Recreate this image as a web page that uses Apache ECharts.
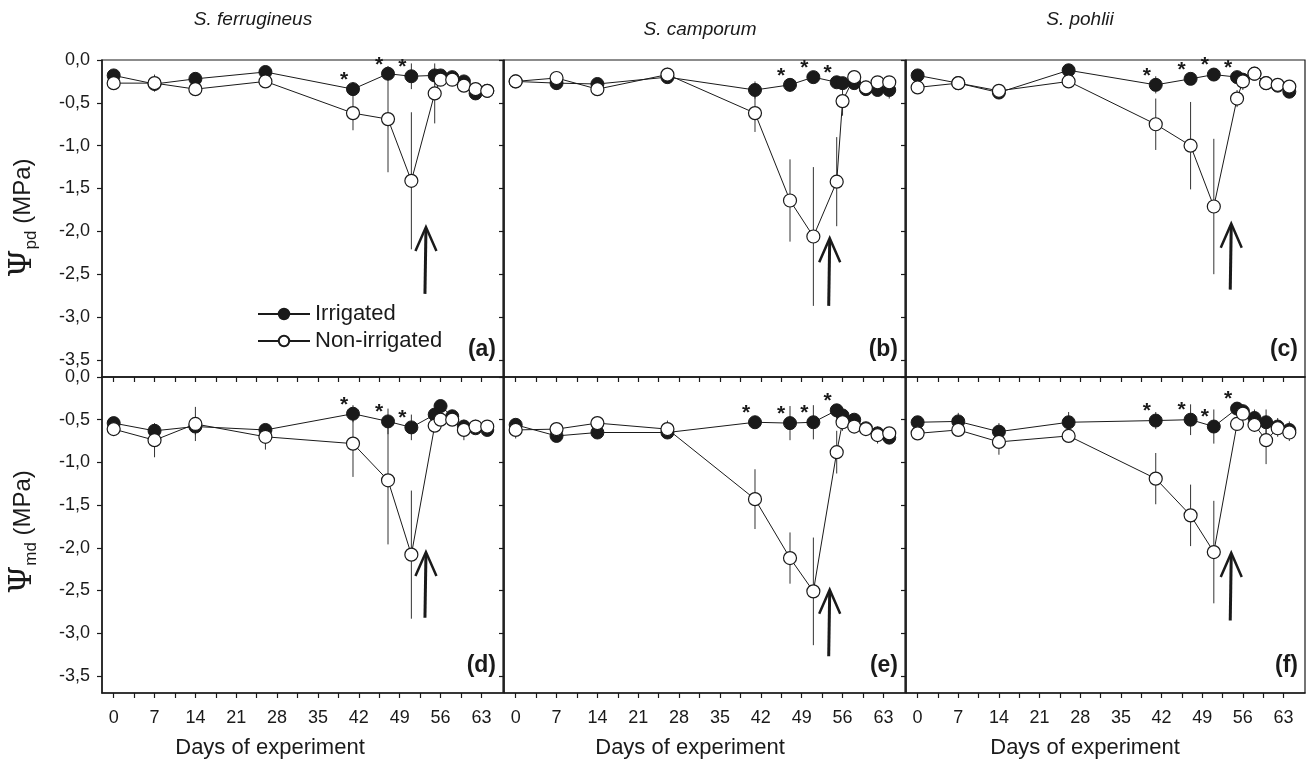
<!DOCTYPE html>
<html>
<head>
<meta charset="utf-8">
<script src="https://cdn.jsdelivr.net/npm/echarts@6/dist/echarts.min.js"></script>
<style>
  html, body { margin: 0; background: #fff; }
  #chart { width: 1310px; height: 762px; }
</style>
</head>
<body>
<div id="chart"></div>
<script>
// sampling days (same for every panel)
const days = [0, 7, 14, 26, 41, 47, 51, 55, 56, 58, 60, 62, 64];

// predawn water potential (top row)
const irrA = [-0.18, -0.28, -0.22, -0.14, -0.34, -0.16, -0.19, -0.18, -0.18, -0.2, -0.25, -0.39, -0.36];
const nonA = [-0.27, -0.27, -0.34, -0.25, -0.62, -0.69, -1.41, -0.39, -0.23, -0.23, -0.3, -0.34, -0.36];
const irrErrA = [0.03, 0.05, 0.05, 0.04, 0.08, 0.04, 0.15, 0.04, 0.05, 0.05, 0.05, 0.05, 0.04];
const nonErrA = [0.03, 0.1, 0.08, 0.07, 0.2, 0.62, 0.8, 0.35, 0.05, 0.05, 0.05, 0.05, 0.04];

const irrB = [-0.25, -0.27, -0.28, -0.2, -0.35, -0.29, -0.2, -0.26, -0.27, -0.27, -0.34, -0.35, -0.35];
const nonB = [-0.25, -0.21, -0.34, -0.17, -0.62, -1.64, -2.06, -1.42, -0.48, -0.2, -0.32, -0.26, -0.26];
const irrErrB = [0.03, 0.08, 0.05, 0.06, 0.1, 0.08, 0.06, 0.05, 0.05, 0.05, 0.08, 0.06, 0.1];
const nonErrB = [0.03, 0.05, 0.06, 0.08, 0.22, 0.48, 0.81, 0.52, 0.17, 0.05, 0.08, 0.05, 0.05];

const irrC = [-0.18, -0.27, -0.38, -0.12, -0.29, -0.22, -0.17, -0.2, -0.23, -0.16, -0.27, -0.3, -0.37];
const nonC = [-0.32, -0.27, -0.36, -0.25, -0.75, -1.0, -1.71, -0.45, -0.25, -0.16, -0.27, -0.29, -0.31];
const irrErrC = [0.03, 0.05, 0.05, 0.05, 0.1, 0.05, 0.05, 0.05, 0.05, 0.05, 0.05, 0.05, 0.05];
const nonErrC = [0.03, 0.05, 0.05, 0.05, 0.3, 0.51, 0.79, 0.1, 0.1, 0.05, 0.08, 0.06, 0.05];

// midday water potential (bottom row)
const irrD = [-0.54, -0.63, -0.58, -0.62, -0.43, -0.52, -0.59, -0.44, -0.34, -0.46, -0.58, -0.6, -0.62];
const nonD = [-0.61, -0.74, -0.55, -0.7, -0.78, -1.21, -2.08, -0.57, -0.5, -0.5, -0.62, -0.58, -0.58];
const irrErrD = [0.04, 0.08, 0.1, 0.06, 0.1, 0.15, 0.15, 0.06, 0.05, 0.06, 0.06, 0.06, 0.06];
const nonErrD = [0.08, 0.2, 0.2, 0.15, 0.39, 0.75, 0.75, 0.06, 0.06, 0.06, 0.12, 0.08, 0.06];

const irrE = [-0.56, -0.69, -0.65, -0.65, -0.53, -0.54, -0.53, -0.39, -0.45, -0.5, -0.6, -0.66, -0.71];
const nonE = [-0.62, -0.61, -0.54, -0.61, -1.43, -2.12, -2.51, -0.88, -0.53, -0.58, -0.61, -0.68, -0.66];
const irrErrE = [0.05, 0.07, 0.06, 0.06, 0.05, 0.2, 0.2, 0.05, 0.05, 0.05, 0.05, 0.05, 0.05];
const nonErrE = [0.1, 0.05, 0.06, 0.1, 0.35, 0.3, 0.63, 0.25, 0.1, 0.06, 0.06, 0.1, 0.06];

const irrF = [-0.53, -0.52, -0.64, -0.53, -0.51, -0.5, -0.58, -0.37, -0.4, -0.48, -0.53, -0.58, -0.62];
const nonF = [-0.66, -0.62, -0.76, -0.69, -1.19, -1.62, -2.05, -0.55, -0.43, -0.56, -0.74, -0.6, -0.65];
const irrErrF = [0.05, 0.1, 0.1, 0.12, 0.1, 0.18, 0.2, 0.05, 0.05, 0.1, 0.15, 0.1, 0.1];
const nonErrF = [0.06, 0.06, 0.15, 0.06, 0.3, 0.36, 0.6, 0.06, 0.06, 0.08, 0.28, 0.1, 0.1];

// days with a significant difference (*)
const starsA = [41, 47, 51];
const starsB = [47, 51, 55];
const starsC = [41, 47, 51, 55];
const starsD = [41, 47, 51];
const starsE = [41, 47, 51, 55];
const starsF = [41, 47, 51, 55];

// rewatering arrow: [day, tip, base]
const arrowA = [53.5, -1.95, -2.73];
const arrowB = [53.8, -2.08, -2.87];
const arrowC = [54.0, -1.91, -2.68];
const arrowD = [53.5, -2.05, -2.82];
const arrowE = [53.8, -2.49, -3.27];
const arrowF = [54.0, -2.06, -2.85];

const xTicks = [0, 3.5, 7, 10.5, 14, 17.5, 21, 24.5, 28, 31.5, 35, 38.5, 42, 45.5, 49, 52.5, 56, 59.5, 63];
const xLabels = [0, 7, 14, 21, 28, 35, 42, 49, 56, 63];
const yTicks = [0, -0.5, -1, -1.5, -2, -2.5, -3, -3.5];

const species = ['S. ferrugineus', 'S. camporum', 'S. pohlii'];
const letters = ['(a)', '(b)', '(c)', '(d)', '(e)', '(f)'];

const panels = [
  { irr: irrA, non: nonA, irrErr: irrErrA, nonErr: nonErrA, stars: starsA, arrow: arrowA },
  { irr: irrB, non: nonB, irrErr: irrErrB, nonErr: nonErrB, stars: starsB, arrow: arrowB },
  { irr: irrC, non: nonC, irrErr: irrErrC, nonErr: nonErrC, stars: starsC, arrow: arrowC },
  { irr: irrD, non: nonD, irrErr: irrErrD, nonErr: nonErrD, stars: starsD, arrow: arrowD },
  { irr: irrE, non: nonE, irrErr: irrErrE, nonErr: nonErrE, stars: starsE, arrow: arrowE },
  { irr: irrF, non: nonF, irrErr: irrErrF, nonErr: nonErrF, stars: starsF, arrow: arrowF }
];

const FONT = '"Liberation Sans", Arial, sans-serif';
const ink = '#1a1a1a';

const colLeft = [102, 504, 906];
const colWidth = [401, 401, 399];
const rowTop = [60, 377];
const rowHeight = [317, 316];

const grids = [], xAxes = [], yAxes = [], series = [];

function renderErr(params, api) {
  const x = api.value(0), y = api.value(1), e = api.value(2);
  const p1 = api.coord([x, y + e]);
  const p2 = api.coord([x, y - e]);
  return {
    type: 'line',
    shape: { x1: p1[0], y1: p1[1], x2: p2[0], y2: p2[1] },
    style: { stroke: '#333', lineWidth: 1 }
  };
}

function renderArrow(params, api) {
  const d = api.value(0);
  const t = api.coord([d, api.value(1)]);
  const b = api.coord([d, api.value(2)]);
  return {
    type: 'group',
    children: [
      { type: 'line', shape: { x1: b[0] - 1, y1: b[1], x2: t[0], y2: t[1] + 2 },
        style: { stroke: ink, lineWidth: 3 } },
      { type: 'polyline', shape: { points: [[t[0] - 10.5, t[1] + 24], [t[0], t[1]], [t[0] + 10.5, t[1] + 24]] },
        style: { stroke: ink, lineWidth: 2.5, fill: null } }
    ]
  };
}

panels.forEach((p, i) => {
  const row = Math.floor(i / 3), col = i % 3;
  grids.push({
    left: colLeft[col], top: rowTop[row], width: colWidth[col], height: rowHeight[row],
    show: true, borderColor: ink, borderWidth: 1.2, containLabel: false
  });
  xAxes.push({
    gridIndex: i, type: 'value', min: -2, max: 66.7,
    axisLine: { onZero: false, lineStyle: { color: ink, width: 1.5 } },
    axisTick: { show: true, length: 5, customValues: xTicks, lineStyle: { color: ink, width: 1.2 } },
    axisLabel: {
      show: row === 1, customValues: xLabels, margin: 16,
      fontSize: 18, color: ink, fontFamily: FONT
    },
    splitLine: { show: false }
  });
  yAxes.push({
    gridIndex: i, type: 'value', min: -3.7, max: 0,
    axisLine: { onZero: false, lineStyle: { color: ink, width: 1.5 } },
    axisTick: { show: true, length: 5, customValues: yTicks, lineStyle: { color: ink, width: 1.2 } },
    axisLabel: {
      show: col === 0, customValues: yTicks, margin: 12,
      fontSize: 18, color: ink, fontFamily: FONT,
      formatter: v => (Math.abs(v) < 1e-9 ? '0,0' : v.toFixed(1).replace('.', ','))
    },
    splitLine: { show: false }
  });

  series.push({
    type: 'custom', xAxisIndex: i, yAxisIndex: i, z: 1, silent: true,
    renderItem: renderErr,
    data: days.map((d, k) => [d, p.irr[k], p.irrErr[k]])
  });
  series.push({
    type: 'custom', xAxisIndex: i, yAxisIndex: i, z: 1, silent: true,
    renderItem: renderErr,
    data: days.map((d, k) => [d, p.non[k], p.nonErr[k]])
  });
  series.push({
    name: 'Irrigated', type: 'line', xAxisIndex: i, yAxisIndex: i, z: 3,
    symbol: 'circle', symbolSize: 13,
    lineStyle: { color: ink, width: 1 },
    itemStyle: { color: ink, borderColor: ink, borderWidth: 1 },
    data: days.map((d, k) => {
      const item = { value: [d, p.irr[k]] };
      if (p.stars.includes(d)) {
        item.label = {
          show: true, formatter: '*', position: 'inside', offset: [-9, -9],
          fontSize: 21, fontWeight: 'bold', color: ink, fontFamily: FONT
        };
      }
      return item;
    })
  });
  series.push({
    name: 'Non-irrigated', type: 'line', xAxisIndex: i, yAxisIndex: i, z: 4,
    symbol: 'circle', symbolSize: 13,
    lineStyle: { color: ink, width: 1 },
    itemStyle: { color: '#fff', borderColor: ink, borderWidth: 1.2 },
    data: days.map((d, k) => [d, p.non[k]])
  });
  series.push({
    type: 'custom', xAxisIndex: i, yAxisIndex: i, z: 5, silent: true,
    renderItem: renderArrow,
    data: [p.arrow]
  });
});

const graphics = [];
const titleY = [20, 30, 20];
const titleX = [253, 700, 1080];
species.forEach((s, c) => {
  graphics.push({
    type: 'text', x: titleX[c], y: titleY[c],
    style: { text: s, font: 'italic 19px ' + FONT, fill: ink, textAlign: 'center', textVerticalAlign: 'middle' }
  });
  graphics.push({
    type: 'text', x: [270, 690, 1085][c], y: 748,
    style: { text: 'Days of experiment', font: '22px ' + FONT, fill: ink, textAlign: 'center', textVerticalAlign: 'middle' }
  });
});
letters.forEach((l, i) => {
  const row = Math.floor(i / 3), col = i % 3;
  graphics.push({
    type: 'text', x: colLeft[col] + colWidth[col] - 7, y: rowTop[row] + rowHeight[row] - 27,
    style: { text: l, font: 'bold 23px ' + FONT, fill: ink, textAlign: 'right', textVerticalAlign: 'middle' }
  });
});
['pd', 'md'].forEach((sub, r) => {
  graphics.push({
    type: 'text', x: 23, y: [218, 532][r], rotation: Math.PI / 2,
    style: {
      text: '{psi|Ψ}{sub|' + sub + '}{n| (MPa)}',
      textAlign: 'center', textVerticalAlign: 'middle',
      rich: {
        psi: { fontSize: 32, fontFamily: '"DejaVu Serif", serif', fill: ink, lineHeight: 34 },
        sub: { fontSize: 17, fontFamily: FONT, fill: ink, verticalAlign: 'bottom', lineHeight: 34 },
        n: { fontSize: 24, fontFamily: FONT, fill: ink, lineHeight: 34 }
      }
    }
  });
});

const chart = echarts.init(document.getElementById('chart'));
chart.setOption({
  animation: false,
  backgroundColor: '#fff',
  grid: grids,
  xAxis: xAxes,
  yAxis: yAxes,
  series: series,
  legend: {
    data: ['Irrigated', 'Non-irrigated'],
    orient: 'vertical', left: 252, top: 298,
    itemWidth: 52, itemHeight: 13, itemGap: 5,
    textStyle: { fontSize: 22, color: ink, fontFamily: FONT },
    selectedMode: false
  },
  graphic: graphics
});
</script>
</body>
</html>
